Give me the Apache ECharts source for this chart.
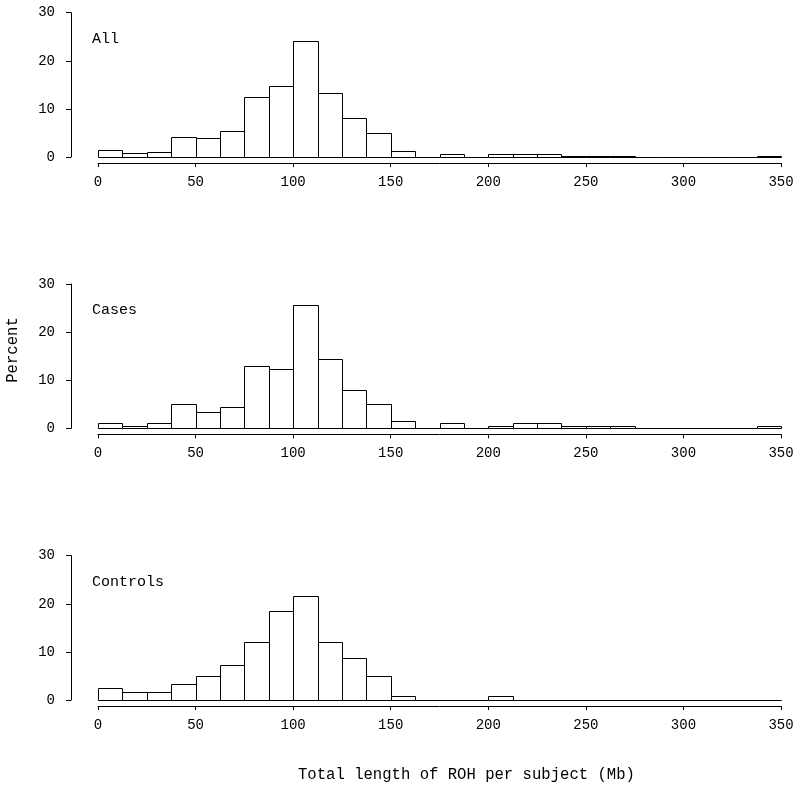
<!DOCTYPE html>
<html>
<head>
<meta charset="utf-8">
<script src="https://cdn.jsdelivr.net/npm/echarts@6/dist/echarts.min.js"></script>
<style>html,body{margin:0;padding:0;background:#fff}#c{width:800px;height:791px}</style>
</head>
<body>
<div id="c"></div>
<script>
const binWidth = 12.5;
const binStarts = [0,12.5,25,37.5,50,62.5,75,87.5,100,112.5,125,137.5,150,162.5,175,187.5,200,212.5,225,237.5,250,262.5,275,287.5,300,312.5,325,337.5];
const allPct = [1.5,0.8,1.1,4.25,3.95,5.5,12.5,14.7,24.2,13.4,8.2,4.9,1.15,0,0.55,0,0.55,0.55,0.55,0.28,0.28,0.28,0,0,0,0,0,0.28];
const casesPct = [1.05,0.5,1.05,5.0,3.45,4.5,12.85,12.3,25.7,14.4,8.0,5.0,1.45,0,1.0,0,0.5,1.0,1.0,0.5,0.5,0.5,0,0,0,0,0,0.5];
const controlsPct = [2.5,1.65,1.65,3.3,4.9,7.25,12.0,18.5,21.6,12.0,8.8,4.9,0.83,0,0,0,0.83,0,0,0,0,0,0,0,0,0,0,0];
const panelNames = ['All','Cases','Controls'];
const xTicks = [0,50,100,150,200,250,300,350];
const yTicks = [0,10,20,30];
const xTitle = 'Total length of ROH per subject (Mb)';
const yTitle = 'Percent';

const FONT = 'Liberation Mono';
const panels = [allPct, casesPct, controlsPct];
const gridTops = [12.7, 284, 555.7];
const gridH = 144.3;

const chart = echarts.init(document.getElementById('c'), null, {renderer:'canvas'});

const grids = [], xAxes = [], yAxes = [], series = [], graphics = [];
panels.forEach((vals, i) => {
  grids.push({left: 98, width: 683, top: gridTops[i], height: gridH, containLabel: false});
  xAxes.push({
    type: 'value', gridIndex: i, min: 0, max: 350, interval: 50, offset: 6,
    axisLine: {show: true, onZero: false, lineStyle: {color: '#000', width: 1}},
    axisTick: {show: true, length: 4, lineStyle: {color: '#000'}},
    axisLabel: {fontFamily: FONT, fontSize: 14, color: '#000', margin: 12,
      formatter: v => xTicks.includes(v) ? String(v) : ''},
    splitLine: {show: false}
  });
  yAxes.push({
    type: 'value', gridIndex: i, min: 0, max: 30, interval: 10, offset: 27,
    axisLine: {show: true, onZero: false, lineStyle: {color: '#000', width: 1}},
    axisTick: {show: true, length: 5, lineStyle: {color: '#000'}},
    axisLabel: {fontFamily: FONT, fontSize: 14, color: '#000', margin: 16,
      formatter: v => yTicks.includes(v) ? String(v) : ''},
    splitLine: {show: false}
  });
  series.push({
    type: 'custom', xAxisIndex: i, yAxisIndex: i,
    data: binStarts.map((s, k) => [s, s + binWidth, vals[k]]),
    encode: {x: [0, 1], y: 2},
    renderItem: (params, api) => {
      const p0 = api.coord([api.value(0), api.value(2)]);
      const p1 = api.coord([api.value(1), 0]);
      const x0 = Math.round(p0[0]), x1 = Math.round(p1[0]);
      const y0 = Math.round(p0[1]), y1 = Math.round(p1[1]);
      return {type: 'rect', shape: {x: x0 + 0.5, y: y0 + 0.5, width: x1 - x0, height: y1 - y0},
        style: {fill: '#fff', stroke: '#000', lineWidth: 1}};
    },
    silent: true, animation: false
  });
});

const labelTops = [32, 303, 575];
panelNames.forEach((n, i) => {
  graphics.push({type: 'text', left: 92, top: labelTops[i],
    style: {text: n, font: '15px "' + FONT + '"', fill: '#000'}});
});
graphics.push({type: 'text', left: 298, top: 767,
  style: {text: xTitle, font: '15.6px "' + FONT + '"', fill: '#000'}});
graphics.push({type: 'text', x: 13, y: 350, rotation: Math.PI / 2,
  style: {text: yTitle, font: '15.6px "' + FONT + '"', fill: '#000', align: 'center', verticalAlign: 'middle'}});

chart.setOption({
  animation: false,
  grid: grids, xAxis: xAxes, yAxis: yAxes, series: series, graphic: graphics
});
</script>
</body>
</html>
